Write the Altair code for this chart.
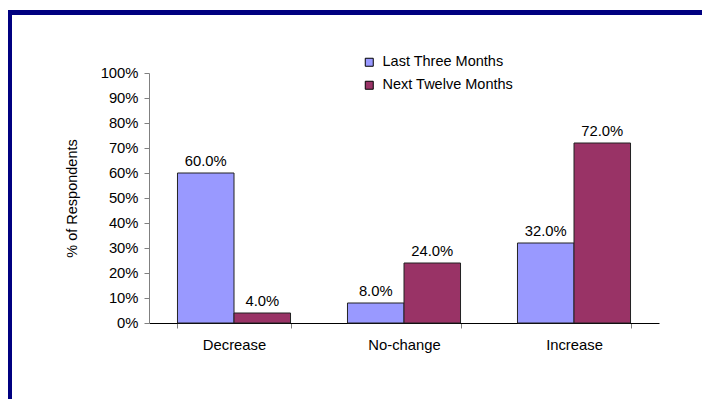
import altair as alt
import pandas as pd

categories = ["Decrease", "No-change", "Increase"]
series = ["Last Three Months", "Next Twelve Months"]
last_three = [60.0, 8.0, 32.0]
next_twelve = [4.0, 24.0, 72.0]
colors = ["#9999FF", "#993366"]

rows = []
for c, a, b in zip(categories, last_three, next_twelve):
    rows.append({"cat": c, "series": series[0], "value": a / 100})
    rows.append({"cat": c, "series": series[1], "value": b / 100})
df = pd.DataFrame(rows)

FONT = "Liberation Sans"
FS = 14.8
W, H = 510, 250
PL, PT, PR, PB = 141, 65, 43, 76

base = alt.Chart(df).encode(
    x=alt.X(
        "cat:N",
        sort=categories,
        scale=alt.Scale(paddingInner=0.335, paddingOuter=0.1675),
        axis=alt.Axis(
            title=None,
            labelAngle=0,
            labelFontSize=FS,
            labelColor="black",
            labelPadding=9,
            tickBand="extent",
            tickSize=5,
            tickColor="#808080",
            domainColor="black",
            labelFont=FONT,
            grid=False,
        ),
    ),
    xOffset=alt.XOffset(
        "series:N", sort=series, scale=alt.Scale(paddingInner=0, paddingOuter=0)
    ),
    y=alt.Y(
        "value:Q",
        scale=alt.Scale(domain=[0, 1], nice=False),
        axis=alt.Axis(
            format=".0%",
            values=[i / 10 for i in range(11)],
            title="% of Respondents",
            titleFontSize=14.5,
            titleFontWeight="normal",
            titleColor="black",
            titleFont=FONT,
            titleX=-77,
            titleY=125,
            titleAngle=-90,
            titleAlign="center",
            titleBaseline="middle",
            labelFontSize=FS,
            labelColor="black",
            labelFont=FONT,
            labelPadding=6,
            tickSize=5,
            tickColor="#808080",
            domainColor="#808080",
            grid=False,
        ),
    ),
)

bars = base.mark_bar(stroke="#222222", strokeWidth=1).encode(
    color=alt.Color(
        "series:N",
        sort=series,
        scale=alt.Scale(domain=series, range=colors),
        legend=alt.Legend(
            title=None,
            orient="none",
            legendX=213,
            legendY=-18,
            symbolType="square",
            symbolSize=64,
            symbolStrokeColor="black",
            symbolStrokeWidth=1,
            symbolOpacity=1,
            labelFontSize=14.5,
            labelFont=FONT,
            labelColor="black",
            rowPadding=8,
            labelOffset=6,
        ),
    )
)

labels = base.mark_text(
    baseline="alphabetic", dy=-7, fontSize=FS, font=FONT, color="black"
).encode(text=alt.Text("value:Q", format=".1%"))

one = pd.DataFrame({"a": [0]})
hline = alt.Chart(one).mark_rule(color="#000080", strokeWidth=5).encode(
    x=alt.value(-PL), x2=alt.value(W + PR), y=alt.value(-60.5)
)
vline = alt.Chart(one).mark_rule(color="#000080", strokeWidth=4).encode(
    x=alt.value(-139), y=alt.value(-60), y2=alt.value(H + PB)
)

chart = (
    alt.layer(bars, labels, hline, vline)
    .properties(
        width=W,
        height=H,
        autosize=alt.AutoSizeParams(type="none"),
        padding={"left": PL, "top": PT, "right": PR, "bottom": PB},
        view=alt.ViewBackground(stroke="transparent", strokeWidth=0),
    )
    .configure_view(strokeWidth=0, stroke="transparent")
    .configure(font=FONT)
)

chart.save("out.html", embed_options={"renderer": "svg", "actions": False})
